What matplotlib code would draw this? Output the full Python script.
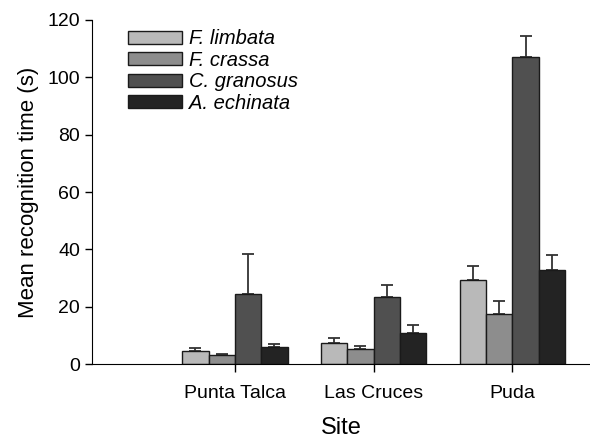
import matplotlib.pyplot as plt
import numpy as np

plt.rcParams['font.family'] = ['Liberation Sans', 'DejaVu Sans']

sites = ['Punta Talca', 'Las Cruces', 'Puda']
species = ['F. limbata', 'F. crassa', 'C. granosus', 'A. echinata']
colors = ['#b9b9b9', '#8d8d8d', '#505050', '#232323']

# mean recognition time (s), one list per species, in site order
means = [
    [4.5, 7.2, 29.2],
    [3.3, 5.3, 17.6],
    [24.5, 23.4, 107.0],
    [6.0, 11.0, 32.7],
]
# upper standard error
errs = [
    [1.0, 1.8, 5.0],
    [0.3, 1.0, 4.5],
    [14.0, 4.2, 7.5],
    [1.0, 2.5, 5.5],
]

fig = plt.figure(figsize=(5.9, 4.43), dpi=100)
ax = fig.add_axes([0.156, 0.178, 0.844, 0.777])

x = np.arange(1, len(sites) + 1)
w = 0.19
for i in range(len(species)):
    pos = x + (i - 1.5) * w
    ax.bar(pos, means[i], w, color=colors[i], edgecolor='#1a1a1a',
           linewidth=1.0, label=species[i], zorder=2)
    ax.errorbar(pos, means[i], yerr=[np.zeros(len(sites)), errs[i]],
                fmt='none', ecolor='#333333', elinewidth=1.3,
                capsize=4.5, capthick=1.3, zorder=1)

ax.set_xlim(-0.03, 3.56)
ax.set_ylim(0, 120)
ax.set_yticks(range(0, 121, 20))
ax.set_xticks(x)
ax.set_xticklabels(sites)
ax.spines['top'].set_visible(False)
ax.spines['right'].set_visible(False)
ax.tick_params(axis='both', labelsize=14, direction='out', length=5, width=1)
ax.tick_params(axis='x', length=6, pad=9)
ax.set_ylabel('Mean recognition time (s)', fontsize=16, labelpad=6)
ax.set_xlabel('Site', fontsize=17, labelpad=11)

leg = ax.legend(loc='upper left', bbox_to_anchor=(0.035, 1.025), frameon=False,
                handlelength=2.7, handleheight=0.6,
                labelspacing=0.12, handletextpad=0.35,
                prop={'style': 'italic', 'size': 14.5})

fig.savefig('out.png', dpi=100)
